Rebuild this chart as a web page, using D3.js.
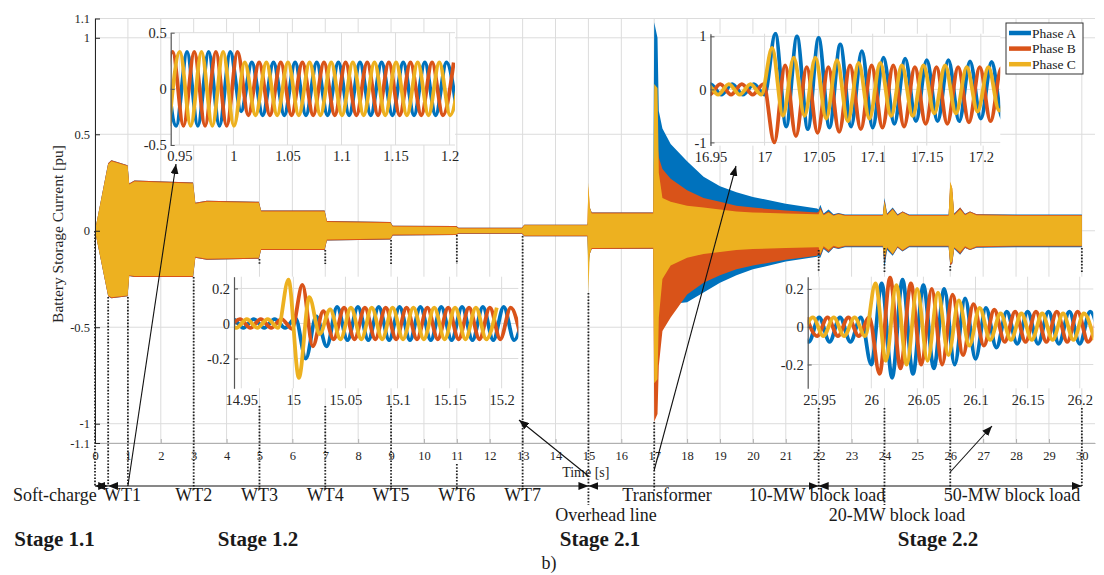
<!DOCTYPE html>
<html>
<head>
<meta charset="utf-8">
<script src="https://cdn.jsdelivr.net/npm/d3@7"></script>
<style>
  html, body { margin: 0; padding: 0; background: #fff; }
  svg { display: block; }
</style>
</head>
<body>
<svg id="chart" width="1104" height="575"></svg>
<script>
// ---------------- data ----------------
const phaseNames  = ["Phase A", "Phase B", "Phase C"];
const phaseColors = ["#0072BD", "#D95319", "#EDB120"];

const xTickVals = [0,1,2,3,4,5,6,7,8,9,10,11,12,13,14,15,16,17,18,19,20,21,22,23,24,25,26,27,28,29,30];
const yTickVals = [-1.1, -1, -0.5, 0, 0.5, 1, 1.1];
const yTickText = ["-1.1", "-1", "-0.5", "0", "0.5", "1", "1.1"];

// envelope of the 50 Hz phase currents over the whole 30 s run (upper / lower)
const envT    = [0, 0.4, 0.5, 0.99, 1.04, 1.2, 2.98, 3.05, 3.4, 4.98, 5.05, 6.98, 7.05, 8.98, 9.05, 10.98, 11.05, 12.98, 13.05, 14.97,
                 15.0, 15.04, 15.1, 16.97, 17.0, 17.1, 17.14, 17.25, 17.5, 18.0, 18.5, 19.0, 19.5, 20.0, 21.0, 21.95,
                 22.0, 22.05, 22.15, 22.3, 22.45, 22.6, 22.8, 23.95, 24.0, 24.08, 24.25, 24.4, 24.55, 24.75, 25.95,
                 26.0, 26.06, 26.12, 26.3, 26.45, 26.6, 26.8, 28.0, 30.0];
const envC_hi = [0, 0.345, 0.36, 0.335, 0.24, 0.255, 0.245, 0.14, 0.15, 0.145, 0.1, 0.1, 0.045, 0.04, 0.022, 0.02, 0.012, 0.012, 0.028, 0.028,
                 0.25, 0.12, 0.09, 0.09, 0.76, 0.74, 0.3, 0.17, 0.15, 0.13, 0.12, 0.11, 0.1, 0.095, 0.09, 0.085,
                 0.085, 0.11, 0.08, 0.095, 0.078, 0.085, 0.078, 0.078, 0.15, 0.08, 0.11, 0.078, 0.095, 0.078, 0.078,
                 0.255, 0.22, 0.08, 0.11, 0.08, 0.095, 0.08, 0.078, 0.078];
const envC_lo = [0, -0.335, -0.345, -0.335, -0.23, -0.235, -0.235, -0.135, -0.145, -0.14, -0.095, -0.095, -0.045, -0.04, -0.02, -0.018, -0.012, -0.012, -0.025, -0.025,
                 -0.32, -0.12, -0.09, -0.088, -0.79, -0.77, -0.45, -0.25, -0.18, -0.14, -0.12, -0.11, -0.1, -0.095, -0.09, -0.085,
                 -0.085, -0.12, -0.08, -0.1, -0.078, -0.085, -0.078, -0.078, -0.14, -0.085, -0.12, -0.08, -0.1, -0.078, -0.078,
                 -0.17, -0.16, -0.085, -0.11, -0.08, -0.095, -0.08, -0.078, -0.078];
const envB_hi = [0, 0.35, 0.365, 0.34, 0.245, 0.26, 0.25, 0.145, 0.155, 0.15, 0.105, 0.105, 0.05, 0.045, 0.026, 0.024, 0.015, 0.015, 0.031, 0.031,
                 0.23, 0.12, 0.095, 0.095, 0.45, 0.45, 0.38, 0.32, 0.27, 0.21, 0.17, 0.15, 0.13, 0.12, 0.105, 0.095,
                 0.1, 0.12, 0.085, 0.1, 0.082, 0.09, 0.082, 0.082, 0.16, 0.085, 0.115, 0.082, 0.1, 0.082, 0.082,
                 0.25, 0.22, 0.085, 0.12, 0.085, 0.1, 0.085, 0.082, 0.082];
const envB_lo = [0, -0.34, -0.35, -0.34, -0.235, -0.24, -0.24, -0.14, -0.15, -0.145, -0.1, -0.1, -0.05, -0.045, -0.024, -0.022, -0.015, -0.015, -0.028, -0.028,
                 -0.16, -0.12, -0.095, -0.093, -0.99, -0.95, -0.7, -0.52, -0.45, -0.33, -0.27, -0.23, -0.2, -0.18, -0.15, -0.13,
                 -0.12, -0.13, -0.09, -0.11, -0.085, -0.092, -0.082, -0.082, -0.165, -0.09, -0.125, -0.085, -0.105, -0.082, -0.082,
                 -0.18, -0.17, -0.09, -0.12, -0.088, -0.1, -0.085, -0.082, -0.082];
const envA_hi = [0, 0.35, 0.365, 0.34, 0.245, 0.26, 0.25, 0.145, 0.155, 0.15, 0.105, 0.105, 0.05, 0.045, 0.026, 0.024, 0.015, 0.015, 0.031, 0.031,
                 0.06, 0.12, 0.095, 0.095, 1.08, 1.0, 0.62, 0.53, 0.45, 0.36, 0.28, 0.23, 0.2, 0.175, 0.14, 0.115,
                 0.11, 0.135, 0.09, 0.11, 0.085, 0.092, 0.084, 0.084, 0.17, 0.09, 0.12, 0.085, 0.1, 0.084, 0.084,
                 0.22, 0.2, 0.09, 0.12, 0.088, 0.1, 0.085, 0.084, 0.084];
const envA_lo = [0, -0.34, -0.35, -0.34, -0.235, -0.24, -0.24, -0.14, -0.15, -0.145, -0.1, -0.1, -0.05, -0.045, -0.024, -0.022, -0.015, -0.015, -0.028, -0.028,
                 -0.2, -0.12, -0.095, -0.093, -0.45, -0.5, -0.42, -0.4, -0.38, -0.37, -0.32, -0.27, -0.23, -0.2, -0.16, -0.135,
                 -0.13, -0.14, -0.095, -0.115, -0.088, -0.095, -0.085, -0.085, -0.19, -0.1, -0.13, -0.088, -0.108, -0.085, -0.085,
                 -0.18, -0.17, -0.095, -0.125, -0.09, -0.1, -0.088, -0.085, -0.085];

// zoomed windows: successive half-cycle peaks of each phase (A, B, C)
const HALF_CYCLE = 0.01;   // 50 Hz

const zoom1Start = [0.9371, 0.9338, 0.9405];
const zoom1A = [0.33,-0.33,0.33,-0.33,0.33,-0.33,0.33,-0.2,
                0.235,-0.235,0.235,-0.235,0.235,-0.235,0.235,-0.235,0.235,-0.235,0.235,-0.235,0.235,-0.235,0.235,-0.235,0.235,-0.235,0.235,-0.235];
const zoom1B = [-0.33,0.33,-0.33,0.33,-0.33,0.33,-0.33,0.33,
                -0.235,0.235,-0.235,0.235,-0.235,0.235,-0.235,0.235,-0.235,0.235,-0.235,0.235,-0.235,0.235,-0.235,0.235,-0.235,0.235,-0.235,0.235];
const zoom1C = [-0.33,0.33,-0.33,0.33,-0.33,0.33,-0.33,
                0.235,-0.235,0.235,-0.235,0.235,-0.235,0.235,-0.235,0.235,-0.235,0.235,-0.235,0.235,-0.235,0.235,-0.235,0.235,-0.235,0.235,-0.235,0.235];

const zoom2Start = [14.932, 14.9387, 14.9353];
const zoom2A = [-0.025,0.025,-0.025,0.025,-0.025,0.025,-0.025, 0.03,-0.2,0.04,-0.13,
                0.095,-0.095,0.095,-0.095,0.095,-0.095,0.095,-0.095,0.095,-0.095,0.095,-0.095,0.095,-0.095,0.095,-0.095,0.095,-0.095,0.095];
const zoom2B = [-0.025,0.025,-0.025,0.025,-0.025,0.025,-0.03, 0.22,-0.13,0.07,-0.09,
                0.09,-0.09,0.09,-0.09,0.09,-0.09,0.09,-0.09,0.09,-0.09,0.09,-0.09,0.09,-0.09,0.09,-0.09,0.09,-0.09];
const zoom2C = [0.025,-0.025,0.025,-0.025,0.025,-0.025, 0.25,-0.31,0.15,-0.06,0.08,-0.09,
                0.09,-0.09,0.09,-0.09,0.09,-0.09,0.09,-0.09,0.09,-0.09,0.09,-0.09,0.09,-0.09,0.09];

const zoom3Start = [16.94, 16.939, 16.937];
const zoom3A = [-0.1,0.1,-0.1,0.1,-0.1,0.1,-0.1, 1.05,-0.7,1.0,-0.75,0.97,-0.72,0.85,-0.7,0.72,-0.72,0.6,-0.65,0.58,-0.6,0.55,-0.6,0.55,-0.6,0.53,-0.55,0.52,-0.55,0.5];
const zoom3B = [0.1,-0.1,0.1,-0.1,0.1,-0.1,0.1, -1.0,0.45,-0.88,0.42,-0.82,0.42,-0.8,0.45,-0.75,0.45,-0.72,0.45,-0.7,0.42,-0.65,0.42,-0.65,0.42,-0.62,0.42,-0.6,0.4,-0.45];
const zoom3C = [-0.1,0.1,-0.1,0.1,-0.1,0.1,-0.1, 0.78,-0.5,0.6,-0.5,0.6,-0.55,0.55,-0.6,0.5,-0.55,0.5,-0.5,0.45,-0.5,0.45,-0.45,0.45,-0.45,0.42,-0.42,0.42,-0.4,0.4];

const zoom4Start = [25.93, 25.938, 25.934];
const zoom4A = [0.05,-0.08,0.05,-0.08,0.05,-0.08,0.05, -0.2,0.23,-0.27,0.25,-0.25,0.22,-0.22,0.2,-0.2,0.15,-0.17,0.1,-0.11,0.08,-0.09,0.08,-0.09,0.08,-0.09,0.08,-0.09,0.08,-0.09];
const zoom4B = [0.05,-0.05,0.05,-0.05,0.05,-0.05,0.05, -0.25,0.26,-0.22,0.23,-0.2,0.2,-0.2,0.17,-0.15,0.12,-0.1,0.09,-0.08,0.08,-0.08,0.08,-0.08,0.08,-0.08,0.08,-0.08,0.08];
const zoom4C = [-0.05,0.05,-0.05,0.05,-0.05,0.05,-0.05, 0.23,-0.18,0.22,-0.2,0.2,-0.18,0.18,-0.15,0.14,-0.1,0.1,-0.07,0.07,-0.07,0.07,-0.07,0.07,-0.07,0.07,-0.07,0.07,-0.07];

// events along the time line
const eventLabels = [
  {t: 3,  text: "WT2"}, {t: 5, text: "WT3"}, {t: 7, text: "WT4"},
  {t: 9,  text: "WT5"}, {t: 11, text: "WT6"}, {t: 13, text: "WT7"}
];
const stageBounds = [0, 0.4, 15, 22, 30];

// ---------------- drawing ----------------
const FONT = '"Liberation Serif", "Times New Roman", serif';
const GRID = "#dcdcdc";
const AXIS = "#262626";
const svg = d3.select("#chart");

const X = d3.scaleLinear().domain([0, 30.4]).range([95, 1095]);
const Y = d3.scaleLinear().domain([-1.1, 1.1]).range([443, 18.5]);

// markers
const defs = svg.append("defs");
defs.append("marker").attr("id", "head")
  .attr("viewBox", "0 0 10 8").attr("refX", 10).attr("refY", 4)
  .attr("markerUnits", "userSpaceOnUse").attr("markerWidth", 10).attr("markerHeight", 8)
  .attr("orient", "auto-start-reverse")
  .append("path").attr("d", "M0,0 L10,4 L0,8 Z").attr("fill", "#111");

// main grid
const gGrid = svg.append("g");
gGrid.selectAll("line.v").data(xTickVals).join("line")
  .attr("x1", d => X(d)).attr("x2", d => X(d)).attr("y1", Y(1.1)).attr("y2", Y(-1.1))
  .attr("stroke", GRID).attr("stroke-width", 1);
gGrid.selectAll("line.h").data(yTickVals).join("line")
  .attr("x1", X(0)).attr("x2", X(30.4)).attr("y1", d => Y(d)).attr("y2", d => Y(d))
  .attr("stroke", GRID).attr("stroke-width", 1);

// phase envelopes (A under B under C)
const envelopes = [[envA_hi, envA_lo], [envB_hi, envB_lo], [envC_hi, envC_lo]];
envelopes.forEach(([hi, lo], i) => {
  const area = d3.area()
    .x((d, j) => X(envT[j]))
    .y0((d, j) => Y(lo[j]))
    .y1((d, j) => Y(hi[j]));
  svg.append("path").datum(envT).attr("d", area).attr("fill", phaseColors[i]);
});

// main axes
const xAxis = svg.append("g").attr("transform", `translate(0,${Y(-1.1)})`)
  .call(d3.axisBottom(X).tickValues(xTickVals).tickSize(-4).tickSizeOuter(0).tickPadding(8).tickFormat(d => String(d)));
xAxis.select(".domain").attr("stroke", "#b0b0b0");
xAxis.selectAll(".tick line").attr("stroke", "#b0b0b0");
xAxis.selectAll("text").attr("font-family", FONT).attr("font-size", 12.5).attr("fill", AXIS);

const yAxis = svg.append("g").attr("transform", `translate(${X(0)},0)`)
  .call(d3.axisLeft(Y).tickValues(yTickVals).tickSize(-5).tickSizeOuter(0).tickPadding(5)
        .tickFormat((d, i) => yTickText[i]));
yAxis.select(".domain").attr("stroke", AXIS);
yAxis.selectAll(".tick line").attr("stroke", AXIS);
yAxis.selectAll("text").attr("font-family", FONT).attr("font-size", 12.5).attr("fill", AXIS);

svg.append("text").attr("transform", `translate(63,234) rotate(-90)`)
  .attr("text-anchor", "middle").attr("font-family", FONT).attr("font-size", 15.5).attr("fill", AXIS)
  .text("Battery Storage Current [pu]");
svg.append("text").attr("x", X(14.92)).attr("y", 477)
  .attr("text-anchor", "middle").attr("font-family", FONT).attr("font-size", 14).attr("fill", AXIS)
  .text("Time [s]");

// dotted event markers [time, y-top, y-bottom]
const dotted = [
  [0, 231, 486], [0.4, 297, 486], [1, 297, 486], [3, 277, 490],
  [5, 259, 264], [5, 406, 490], [7, 250, 264], [7, 406, 490],
  [9, 240, 264], [9, 406, 490], [11, 235, 264], [11, 464, 490],
  [13, 236, 490], [15, 293, 505], [17, 422, 492],
  [22, 250, 272], [22, 408, 490], [24, 248, 272], [24, 408, 505],
  [26, 266, 272], [26, 408, 492], [30, 248, 272], [30, 408, 486]
];
svg.append("g").selectAll("line").data(dotted).join("line")
  .attr("x1", d => X(d[0])).attr("x2", d => X(d[0]))
  .attr("y1", d => d[1]).attr("y2", d => d[2])
  .attr("stroke", "#222").attr("stroke-width", 1.8).attr("stroke-dasharray", "1.6,1.6");

// zoomed windows
function drawZoom(cfg, idx) {
  const [x0, y0, x1, y1] = cfg.box;
  const zx = d3.scaleLinear().domain(cfg.xDomain).range([x0, x1]);
  const zy = d3.scaleLinear().domain(cfg.yDomain).range([y1, y0]);
  const g = svg.append("g");
  g.append("rect").attr("x", x0).attr("y", y0).attr("width", x1 - x0).attr("height", y1 - y0).attr("fill", "#fff");
  g.selectAll("line.v").data(cfg.xTicks).join("line")
    .attr("x1", d => zx(d)).attr("x2", d => zx(d)).attr("y1", y0).attr("y2", y1)
    .attr("stroke", GRID);
  g.selectAll("line.h").data(cfg.yTicks).join("line")
    .attr("x1", x0).attr("x2", x1).attr("y1", d => zy(d)).attr("y2", d => zy(d))
    .attr("stroke", GRID);
  const clipId = "clip" + idx;
  defs.append("clipPath").attr("id", clipId)
    .append("rect").attr("x", x0).attr("y", y0 - 2).attr("width", x1 - x0).attr("height", y1 - y0 + 4);
  const line = d3.line().x(d => zx(d[0])).y(d => zy(d[1])).curve(d3.curveMonotoneX);
  const gl = g.append("g").attr("clip-path", `url(#${clipId})`);
  cfg.series.forEach((vals, i) => {
    const pts = vals.map((v, k) => [cfg.start[i] + k * HALF_CYCLE, v]);
    gl.append("path").datum(pts).attr("d", line)
      .attr("fill", "none").attr("stroke", phaseColors[i]).attr("stroke-width", 3.8)
      .attr("stroke-linejoin", "round");
  });
  const ax = g.append("g").attr("transform", `translate(0,${y1})`)
    .call(d3.axisBottom(zx).tickValues(cfg.xTicks).tickSize(0).tickPadding(6).tickFormat(d => String(d)));
  ax.select(".domain").remove();
  ax.selectAll("text").attr("font-family", FONT).attr("font-size", 14.5).attr("fill", AXIS);
  const ay = g.append("g").attr("transform", `translate(${x0},0)`)
    .call(d3.axisLeft(zy).tickValues(cfg.yTicks).tickSize(-4).tickSizeOuter(0).tickPadding(4).tickFormat(d => String(d)));
  ay.select(".domain").attr("stroke", "#555").attr("stroke-width", 1.2);
  ay.selectAll(".tick line").attr("stroke", "#555");
  ay.selectAll("text").attr("font-family", FONT).attr("font-size", 14.5).attr("fill", AXIS);
  return g;
}

drawZoom({box: [170.7, 32.7, 455, 145], xDomain: [0.942, 1.205], yDomain: [-0.5, 0.5],
  xTicks: [0.95, 1, 1.05, 1.1, 1.15, 1.2], yTicks: [-0.5, 0, 0.5],
  start: zoom1Start, series: [zoom1A, zoom1B, zoom1C]}, 1);
drawZoom({box: [234, 276.7, 518.3, 388.3], xDomain: [14.943, 15.216], yDomain: [-0.37, 0.267],
  xTicks: [14.95, 15, 15.05, 15.1, 15.15, 15.2], yTicks: [-0.2, 0, 0.2],
  start: zoom2Start, series: [zoom2A, zoom2B, zoom2C]}, 2);
drawZoom({box: [710.5, 33.7, 1000.3, 145.6], xDomain: [16.95, 17.218], yDomain: [-1.06, 1.05],
  xTicks: [16.95, 17, 17.05, 17.1, 17.15, 17.2], yTicks: [-1, 0, 1],
  start: zoom3Start, series: [zoom3A, zoom3B, zoom3C]}, 3);
drawZoom({box: [807.7, 276.7, 1093.3, 388.3], xDomain: [25.939, 26.213], yDomain: [-0.326, 0.265],
  xTicks: [25.95, 26, 26.05, 26.1, 26.15, 26.2], yTicks: [-0.2, 0, 0.2],
  start: zoom4Start, series: [zoom4A, zoom4B, zoom4C]}, 4);

// legend
const lg = svg.append("g").attr("transform", "translate(1006,23)");
lg.append("rect").attr("width", 77).attr("height", 51).attr("fill", "#fff").attr("stroke", "#333").attr("stroke-width", 1);
phaseNames.forEach((name, i) => {
  const yy = 10 + i * 15.6;
  lg.append("line").attr("x1", 3).attr("x2", 25).attr("y1", yy).attr("y2", yy)
    .attr("stroke", phaseColors[i]).attr("stroke-width", 4.5);
  lg.append("text").attr("x", 26).attr("y", yy).attr("dy", "0.35em")
    .attr("font-family", FONT).attr("font-size", 13.5).attr("fill", "#222").text(name);
});

// stage time line with double arrows
const gArr = svg.append("g");
const lineY = 486;
d3.pairs(stageBounds).forEach(([a, b]) => {
  gArr.append("line").attr("x1", X(a)).attr("x2", X(b)).attr("y1", lineY).attr("y2", lineY)
    .attr("stroke", "#111").attr("stroke-width", 1)
    .attr("marker-start", "url(#head)").attr("marker-end", "url(#head)");
});

// pointers to the zoomed windows
const pointers = [
  [X(1), 486, 176, 164],
  [X(15), 476, 519, 420],
  [X(17), 470, 736, 166],
  [X(26), 472, 992, 426]
];
pointers.forEach(([xa, ya, xb, yb]) => {
  gArr.append("line").attr("x1", xa).attr("y1", ya).attr("x2", xb).attr("y2", yb)
    .attr("stroke", "#111").attr("stroke-width", 1.1).attr("marker-end", "url(#head)");
});

// labels below the time line (two staggered rows)
const ROW1 = 501, ROW2 = 521, LABEL_SIZE = 18;
const gLab = svg.append("g").attr("font-family", FONT).attr("fill", "#1a1a1a");
gLab.append("text").attr("x", 13).attr("y", ROW1).attr("font-size", LABEL_SIZE).text("Soft-charge");
gLab.append("text").attr("x", 104).attr("y", ROW1).attr("font-size", LABEL_SIZE).text("WT1");
eventLabels.forEach(e => {
  gLab.append("text").attr("x", X(e.t)).attr("y", ROW1).attr("text-anchor", "middle").attr("font-size", LABEL_SIZE).text(e.text);
});
gLab.append("text").attr("x", 606).attr("y", ROW2).attr("text-anchor", "middle").attr("font-size", LABEL_SIZE).text("Overhead line");
gLab.append("text").attr("x", 667).attr("y", ROW1).attr("text-anchor", "middle").attr("font-size", LABEL_SIZE).text("Transformer");
gLab.append("text").attr("x", 817).attr("y", ROW1).attr("text-anchor", "middle").attr("font-size", LABEL_SIZE).text("10-MW block load");
gLab.append("text").attr("x", 897).attr("y", ROW2).attr("text-anchor", "middle").attr("font-size", LABEL_SIZE).text("20-MW block load");
gLab.append("text").attr("x", 1012).attr("y", ROW1).attr("text-anchor", "middle").attr("font-size", LABEL_SIZE).text("50-MW block load");

const stages = [["Stage 1.1", 54.5], ["Stage 1.2", 258], ["Stage 2.1", 600], ["Stage 2.2", 938]];
stages.forEach(([s, x]) => {
  gLab.append("text").attr("x", x).attr("y", 546).attr("text-anchor", "middle")
    .attr("font-size", 21).attr("font-weight", "bold").text(s);
});
gLab.append("text").attr("x", 549).attr("y", 569).attr("text-anchor", "middle").attr("font-size", 18).text("b)");
</script>
</body>
</html>
